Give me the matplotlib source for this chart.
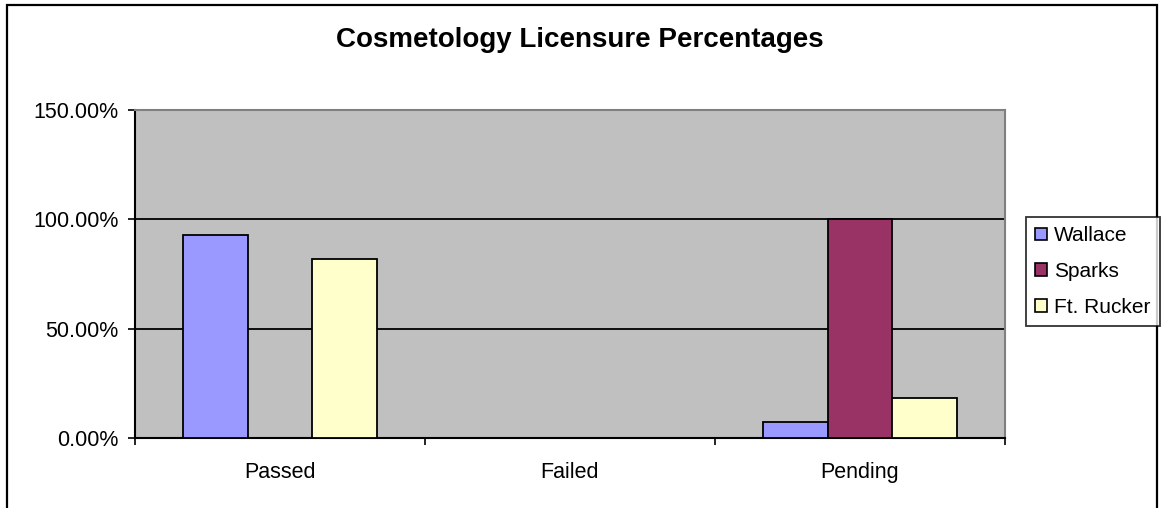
import matplotlib.pyplot as plt
import matplotlib.patches as mpatches
import numpy as np

plt.rcParams['font.family'] = ['Liberation Sans', 'DejaVu Sans']

categories = ['Passed', 'Failed', 'Pending']
schools = ['Wallace', 'Sparks', 'Ft. Rucker']
wallace = [0.9286, 0.0, 0.0714]
sparks = [0.0, 0.0, 1.0]
rucker = [0.8182, 0.0, 0.1818]
colors = ['#9999FF', '#993366', '#FFFFCC']

W, H = 1161, 508
fig = plt.figure(figsize=(W / 100, H / 100), dpi=100)
fig.patch.set_facecolor('white')

# outer chart border (bottom edge runs off the picture)
fig.patches.append(mpatches.Rectangle((7 / W, -0.2), 1150 / W, 1.2 - 5 / H,
                                      transform=fig.transFigure, fill=False,
                                      edgecolor='black', linewidth=1.6))

ax = fig.add_axes([135 / W, 70 / H, 870 / W, 328 / H])
ax.set_facecolor('#C0C0C0')

x = np.arange(len(categories))
bw = 0.222
for j, (vals, name) in enumerate(zip([wallace, sparks, rucker], schools)):
    vals = np.array(vals)
    pos = x + (j - 1) * bw
    keep = vals > 0
    ax.bar(pos[keep], vals[keep], width=bw, color=colors[j], edgecolor='black',
           linewidth=1.3, zorder=3)

fs = 15.5
ax.set_ylim(0, 1.5)
ax.set_xlim(-0.5, 2.5)
ax.set_yticks([0, 0.5, 1.0, 1.5])
ax.set_yticklabels(['0.00%', '50.00%', '100.00%', '150.00%'], fontsize=fs)
for yv in [0.5, 1.0]:
    ax.axhline(yv, color='black', linewidth=1.3, zorder=1)

ax.set_xticks([-0.5, 0.5, 1.5, 2.5])
ax.set_xticklabels([])
ax.set_xticks(x, minor=True)
ax.set_xticklabels(categories, minor=True, fontsize=fs)
ax.tick_params(axis='x', which='minor', length=0, pad=17)
ax.tick_params(axis='both', which='major', length=5, width=1.2, direction='out')
ax.tick_params(axis='y', pad=7)

ax.spines['left'].set_color('black')
ax.spines['bottom'].set_color('black')
ax.spines['left'].set_linewidth(1.5)
ax.spines['bottom'].set_linewidth(1.5)
ax.spines['top'].set_color('#808080')
ax.spines['right'].set_color('#808080')
ax.spines['top'].set_linewidth(1.5)
ax.spines['right'].set_linewidth(1.5)

fig.text(580 / W, 1 - 40 / H, 'Cosmetology Licensure Percentages',
         ha='center', va='center', fontsize=20, fontweight='bold')

handles = [mpatches.Patch(facecolor=c, edgecolor='black', linewidth=1.2) for c in colors]
leg = fig.legend(handles, schools, loc='upper left',
                 bbox_to_anchor=(1026 / W, 1 - 217 / H), fontsize=15,
                 frameon=True, fancybox=False, edgecolor='black',
                 handlelength=0.55, handleheight=0.55, handletextpad=0.35,
                 labelspacing=0.8, borderpad=0.45, borderaxespad=0)
leg.get_frame().set_linewidth(1.3)

fig.savefig('out.png', dpi=100)
